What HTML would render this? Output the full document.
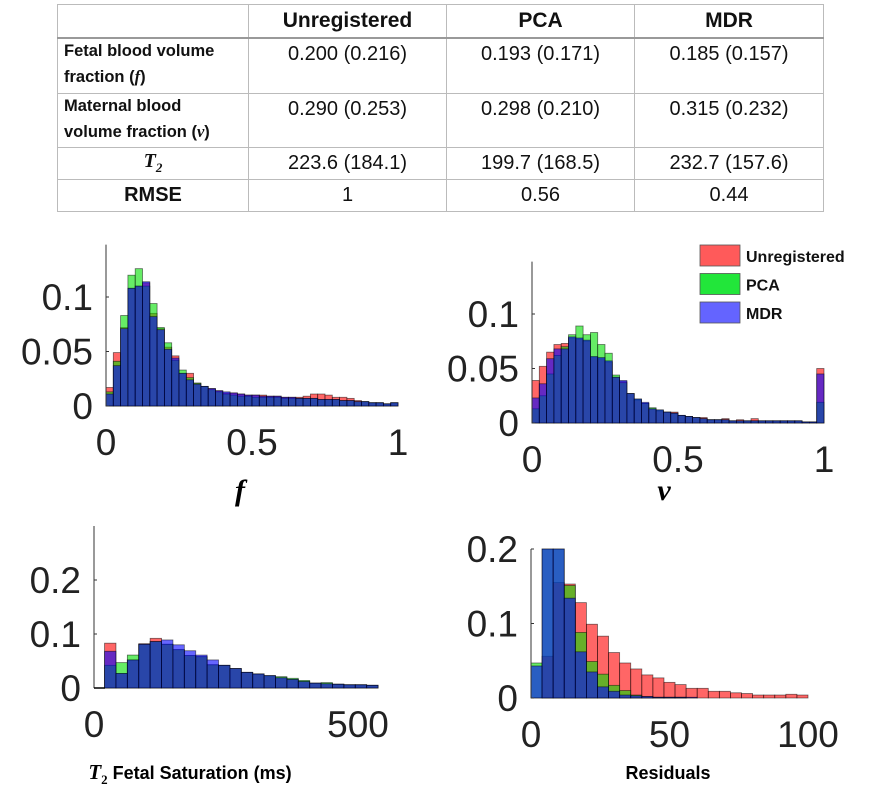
<!DOCTYPE html>
<html><head><meta charset="utf-8"><style>
body{margin:0;width:869px;height:794px;background:#fff;overflow:hidden;font-family:"Liberation Sans",sans-serif}
table{position:absolute;left:57px;top:4px;border-collapse:collapse;font-size:20px;color:#111}
td{border:1px solid #bbb;padding:0;text-align:center;vertical-align:top}
td.l{text-align:left;font-weight:bold;font-size:16.5px;padding-left:6px;line-height:25px}
tr.h td{font-weight:bold;font-size:21px;border-bottom:2px solid #999;height:32px;vertical-align:middle}
svg{position:absolute;left:0;top:0}
</style></head><body>
<table>
<tr class="h"><td style="width:190px"></td><td style="width:197px">Unregistered</td><td style="width:187px">PCA</td><td style="width:188px">MDR</td></tr>
<tr style="height:55px"><td class="l">Fetal blood volume<br>fraction (<i style="font-family:'Liberation Serif'">f</i>)</td><td style="padding-top:4px">0.200 (0.216)</td><td style="padding-top:4px">0.193 (0.171)</td><td style="padding-top:4px">0.185 (0.157)</td></tr>
<tr style="height:54px"><td class="l">Maternal blood<br>volume fraction (<i style="font-family:'Liberation Serif'">v</i>)</td><td style="padding-top:4px">0.290 (0.253)</td><td style="padding-top:4px">0.298 (0.210)</td><td style="padding-top:4px">0.315 (0.232)</td></tr>
<tr style="height:32px"><td style="vertical-align:middle;font-family:'Liberation Serif';font-weight:bold;font-style:italic">T<sub style="font-size:13px">2</sub></td><td style="vertical-align:middle">223.6 (184.1)</td><td style="vertical-align:middle">199.7 (168.5)</td><td style="vertical-align:middle">232.7 (157.6)</td></tr>
<tr style="height:32px"><td style="vertical-align:middle;font-weight:bold">RMSE</td><td style="vertical-align:middle">1</td><td style="vertical-align:middle">0.56</td><td style="vertical-align:middle">0.44</td></tr>
</table>
<svg id="chart" width="869" height="794"></svg>
<script>
const fU=[0.017,0.049,0.072,0.108,0.110,0.113,0.085,0.071,0.054,0.046,0.030,0.030,0.021,0.018,0.016,0.014,0.012,0.012,0.011,0.010,0.010,0.010,0.009,0.009,0.008,0.008,0.008,0.009,0.011,0.011,0.010,0.008,0.008,0.007,0.005,0.004,0.003,0.003,0.002,0.003];
const fP=[0.013,0.041,0.083,0.120,0.126,0.110,0.094,0.072,0.058,0.042,0.033,0.026,0.021,0.018,0.015,0.013,0.011,0.010,0.009,0.009,0.008,0.008,0.008,0.008,0.007,0.007,0.007,0.007,0.007,0.006,0.006,0.006,0.005,0.005,0.004,0.004,0.003,0.003,0.002,0.003];
const fM=[0.011,0.037,0.071,0.108,0.110,0.114,0.082,0.070,0.052,0.044,0.030,0.024,0.020,0.018,0.016,0.014,0.013,0.012,0.011,0.010,0.010,0.009,0.009,0.009,0.008,0.008,0.007,0.007,0.007,0.006,0.006,0.006,0.005,0.005,0.004,0.004,0.003,0.003,0.002,0.003];
const vU=[0.039,0.052,0.065,0.072,0.073,0.078,0.077,0.075,0.060,0.059,0.056,0.042,0.038,0.027,0.021,0.018,0.013,0.011,0.010,0.010,0.007,0.006,0.005,0.005,0.003,0.003,0.004,0.002,0.003,0.002,0.004,0.002,0.002,0.002,0.002,0.002,0.002,0.001,0.001,0.050];
const vP=[0.013,0.025,0.045,0.062,0.070,0.081,0.089,0.081,0.083,0.072,0.064,0.044,0.037,0.027,0.022,0.018,0.014,0.012,0.010,0.009,0.007,0.006,0.005,0.004,0.003,0.003,0.003,0.002,0.002,0.002,0.002,0.002,0.002,0.002,0.002,0.002,0.002,0.001,0.001,0.019];
const vM=[0.023,0.036,0.059,0.068,0.068,0.079,0.078,0.076,0.061,0.060,0.057,0.042,0.039,0.027,0.022,0.019,0.013,0.012,0.010,0.009,0.007,0.006,0.005,0.004,0.003,0.003,0.003,0.002,0.002,0.002,0.002,0.002,0.002,0.002,0.002,0.002,0.002,0.001,0.001,0.045];
const tU=[0.083,0.027,0.052,0.082,0.092,0.081,0.071,0.060,0.058,0.043,0.042,0.036,0.029,0.026,0.022,0.019,0.016,0.012,0.009,0.008,0.007,0.006,0.006,0.005];
const tP=[0.042,0.047,0.061,0.081,0.086,0.081,0.071,0.060,0.058,0.043,0.042,0.036,0.029,0.026,0.023,0.021,0.018,0.014,0.009,0.010,0.007,0.006,0.006,0.005];
const tM=[0.068,0.027,0.052,0.081,0.086,0.089,0.080,0.069,0.061,0.052,0.042,0.036,0.029,0.026,0.023,0.019,0.016,0.012,0.009,0.008,0.007,0.006,0.006,0.005];
const rU=[0.0,0.056,0.155,0.153,0.128,0.099,0.083,0.061,0.047,0.039,0.031,0.027,0.021,0.018,0.013,0.013,0.009,0.009,0.007,0.006,0.004,0.004,0.004,0.005,0.004];
const rP=[0.047,0.25,0.25,0.151,0.088,0.049,0.032,0.017,0.010,0.004,0.002,0.001,0.001,0.001,0,0,0,0,0,0,0,0,0,0,0];
const rM=[0.043,0.25,0.25,0.134,0.062,0.035,0.015,0.009,0.004,0.003,0.002,0.001,0.001,0.001,0.001,0,0,0,0,0,0,0,0,0,0];
const fXTicks=[0,0.5,1], fYTicks=[0,0.05,0.1];
const vXTicks=[0,0.5,1], vYTicks=[0,0.05,0.1];
const tXTicks=[0,500], tYTicks=[0,0.1,0.2];
const rXTicks=[0,50,100], rYTicks=[0,0.1,0.2];

const svg=document.getElementById('chart');
const NS='http://www.w3.org/2000/svg';
function mk(tag,attrs,parent){const e=document.createElementNS(NS,tag);for(const k in attrs)e.setAttribute(k,attrs[k]);(parent||svg).appendChild(e);return e;}
function txt(s,attrs,parent){const e=mk('text',attrs,parent);e.textContent=s;return e;}
const colors=['#ff0000','#00e000','#0000ff'];

function panel(name,cfg){
  const g=mk('g',{});
  
  
  const xs=v=>cfg.x0+(v-cfg.d0)/(cfg.d1-cfg.d0)*(cfg.x1-cfg.x0);
  const ys=v=>cfg.base-Math.min(v,cfg.ymax)*cfg.ppu;
  const n=cfg.series[0].length;
  const w=(cfg.e1-cfg.e0)/n;
  cfg.series.forEach((arr,si)=>{
    arr.forEach((v,i)=>{
      if(v<=0)return;
      const xa=xs(cfg.e0+i*w), xb=xs(cfg.e0+(i+1)*w);
      const r=mk('rect',{x:xa,y:ys(v),width:xb-xa,height:cfg.base-ys(v),fill:colors[si],'fill-opacity':0.6,stroke:'#000','stroke-opacity':0.55,'stroke-width':0.8},g);
      
      
    });
  });
  const ax=mk('line',{x1:cfg.axX,x2:cfg.axX,y1:ys(cfg.ymax),y2:cfg.base,stroke:'#333','stroke-width':1},g);
  
  
  cfg.yt.forEach(t=>{
    mk('line',{x1:cfg.axX,x2:cfg.axX+3,y1:ys(t),y2:ys(t),stroke:'#333'},g);
    const l=txt(String(t),{x:cfg.axX-13,y:ys(t)+13,'text-anchor':'end','font-size':37,fill:'#222'},g);
    
    
  });
  cfg.xt.forEach(t=>{
    const l=txt(String(t),{x:xs(t),y:cfg.base+49,'text-anchor':'middle','font-size':37,fill:'#222'},g);
    
    
  });
}
panel('f-histogram',{x0:106,x1:398,d0:0,d1:1,e0:0,e1:1,base:406,ppu:1090,ymax:0.148,axX:106,series:[fU,fP,fM],xt:fXTicks,yt:fYTicks});
panel('v-histogram',{x0:532,x1:824,d0:0,d1:1,e0:0,e1:1,base:423,ppu:1090,ymax:0.148,axX:532,series:[vU,vP,vM],xt:vXTicks,yt:vYTicks});
panel('t2-histogram',{x0:94,x1:358,d0:0,d1:500,e0:20,e1:538,base:688,ppu:540,ymax:0.3,axX:94,series:[tU,tP,tM],xt:tXTicks,yt:tYTicks});
panel('residuals-histogram',{x0:531,x1:808,d0:0,d1:100,e0:0,e1:100,base:698,ppu:745,ymax:0.2,axX:531,series:[rU,rP,rM],xt:rXTicks,yt:rYTicks});
mk('line',{x1:94,x2:105,y1:688,y2:688,stroke:'#000','stroke-width':1.5});

const xl1=txt('f',{x:240,y:500,'text-anchor':'middle','font-size':30,'font-family':'Liberation Serif','font-style':'italic','font-weight':'bold'});


const xl2=txt('v',{x:664,y:500,'text-anchor':'middle','font-size':30,'font-family':'Liberation Serif','font-style':'italic','font-weight':'bold'});


const xl3=mk('text',{x:190,y:779,'text-anchor':'middle','font-size':18,'font-weight':'bold'});
xl3.innerHTML='<tspan font-family="Liberation Serif" font-style="italic" font-size="21">T</tspan><tspan font-size="13" dy="5" font-family="Liberation Serif">2</tspan><tspan dy="-5"> Fetal Saturation (ms)</tspan>';


const xl4=txt('Residuals',{x:668,y:779,'text-anchor':'middle','font-size':18,'font-weight':'bold'});



const legNames=['Unregistered','PCA','MDR'];
const legFill=['#ff5a5a','#22e63a','#6464ff'];
legNames.forEach((n,i)=>{
  const g=mk('g',{});
  
  
  mk('rect',{x:700,y:245+i*28.5,width:40,height:21,fill:legFill[i],stroke:'#555','stroke-width':0.8},g);
  txt(n,{x:746,y:262+i*28.5,'font-size':16,'font-weight':'bold',fill:'#111'},g);
});
</script>
</body></html>
